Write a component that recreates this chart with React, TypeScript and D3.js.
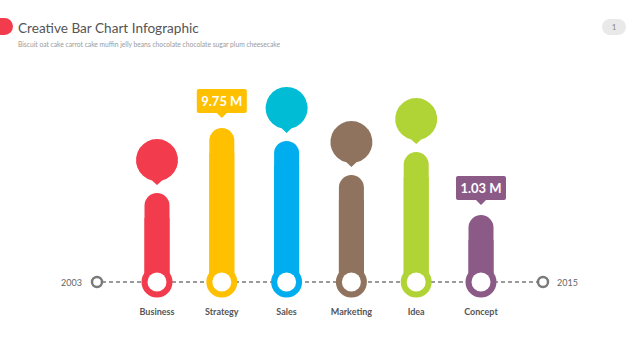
import React from "react";
import * as d3 from "d3";

const categories = ["Business", "Strategy", "Sales", "Marketing", "Idea", "Concept"];
const values = [5.78, 10, 9.16, 6.95, 8.44, 4.35];
const barColors = ["#F23B4C", "#FFC000", "#00AEEF", "#8F735E", "#B0D335", "#8B5A87"];
const markerColors = ["#F23B4C", "#FFC000", "#00BCD4", "#8F735E", "#B0D335", "#8B5A87"];
const markerTypes = ["bubble", "label", "bubble", "bubble", "bubble", "label"];
const markerLabels = ["", "9.75 M", "", "", "", "1.03 M"];
const timeLabels = ["2003", "2015"];

const W = 640;
const H = 360;
const baseY = 282;
const font = "Lato, 'Open Sans', sans-serif";

export default function App() {
  const x = d3.scalePoint<string>().domain(categories).range([157, 481]);
  const y = d3.scaleLinear().domain([0, 10]).range([baseY, 128]);
  const barW = 25;

  const bubblePath = (cx: number, tipY: number) => {
    const r = 21;
    const cy = tipY - 25;
    const p = d3.path();
    const a = Math.asin(5 / r);
    const startAng = Math.PI / 2 + a;
    const endAng = Math.PI / 2 - a + 2 * Math.PI;
    p.moveTo(cx + r * Math.cos(startAng), cy + r * Math.sin(startAng));
    p.arc(cx, cy, r, startAng, endAng, false);
    p.lineTo(cx, tipY);
    p.closePath();
    return p.toString();
  };

  const labelPath = (cx: number, tipY: number) => {
    const w = 50, h = 24, rr = 2, t = 5;
    const bot = tipY - t;
    const top = bot - h;
    const l = cx - w / 2, r = cx + w / 2;
    const p = d3.path();
    p.moveTo(l + rr, top);
    p.lineTo(r - rr, top);
    p.quadraticCurveTo(r, top, r, top + rr);
    p.lineTo(r, bot - rr);
    p.quadraticCurveTo(r, bot, r - rr, bot);
    p.lineTo(cx + 5, bot);
    p.lineTo(cx, tipY);
    p.lineTo(cx - 5, bot);
    p.lineTo(l + rr, bot);
    p.quadraticCurveTo(l, bot, l, bot - rr);
    p.lineTo(l, top + rr);
    p.quadraticCurveTo(l, top, l + rr, top);
    p.closePath();
    return p.toString();
  };

  return (
    <svg
      width={W}
      height={H}
      style={{ position: "absolute", left: 0, top: 0, display: "block", background: "#fff" }}
      fontFamily={font}
    >
      <rect x={-9} y={18} width={22} height={17} rx={8.5} fill="#F23B4C" />
      <text x={18} y={33} fontSize={13.6} fill="#555">
        Creative Bar Chart Infographic
      </text>
      <text x={18} y={47} fontSize={6.7} fill="#9a9a9a">
        Biscuit oat cake carrot cake muffin jelly beans chocolate chocolate sugar plum cheesecake
      </text>
      <rect x={602} y={19} width={24} height={16} rx={8} fill="#e9e9e9" />
      <text x={614} y={30} fontSize={8} fill="#888" textAnchor="middle">1</text>

      <line x1={102} x2={538} y1={baseY} y2={baseY} stroke="#7a7a7a" strokeWidth={1.5} strokeDasharray="4 3" />
      <circle cx={97} cy={baseY} r={5} fill="#fff" stroke="#7a7a7a" strokeWidth={2.5} />
      <circle cx={543} cy={baseY} r={5} fill="#fff" stroke="#7a7a7a" strokeWidth={2.5} />
      <text x={82} y={baseY + 3.5} fontSize={9} fill="#666" textAnchor="end">{timeLabels[0]}</text>
      <text x={557} y={baseY + 3.5} fontSize={9} fill="#666">{timeLabels[1]}</text>

      {categories.map((c, i) => {
        const cx = x(c) as number;
        const top = y(values[i]);
        return (
          <g key={c}>
            <rect x={cx - barW / 2} y={top} width={barW} height={baseY - top + 2} rx={barW / 2} fill={barColors[i]} />
            <rect x={cx - barW / 2} y={top + barW} width={barW} height={baseY - top - barW} fill={barColors[i]} />
            <circle cx={cx} cy={baseY} r={15.5} fill={barColors[i]} />
            <circle cx={cx} cy={baseY} r={9.5} fill="#fff" />
            {markerTypes[i] === "bubble" ? (
              <path d={bubblePath(cx, top - 8)} fill={markerColors[i]} />
            ) : (
              <g>
                <path d={labelPath(cx, top - 10)} fill={markerColors[i]} />
                <text x={cx} y={top - 22} fontSize={13} fontWeight={700} fill="#fff" textAnchor="middle">
                  {markerLabels[i]}
                </text>
              </g>
            )}
            <text x={cx} y={315} fontSize={9} fontWeight={700} fill="#555" textAnchor="middle">
              {c}
            </text>
          </g>
        );
      })}
    </svg>
  );
}
